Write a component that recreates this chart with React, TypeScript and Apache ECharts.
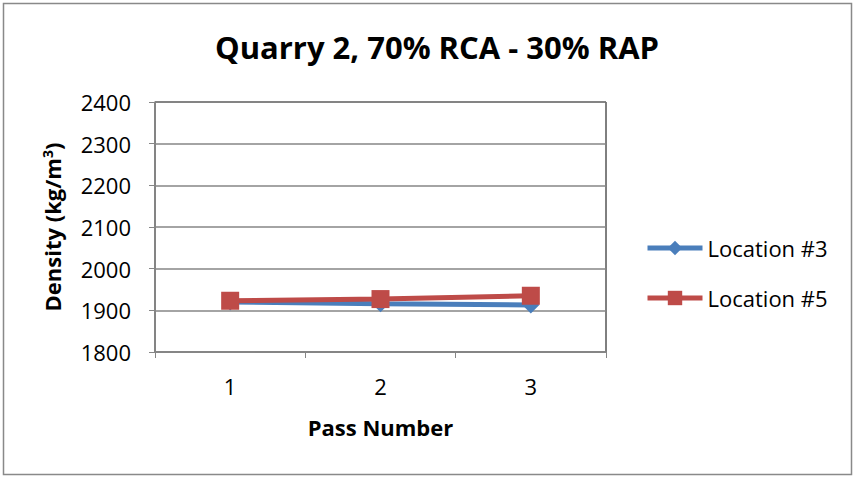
import React, { useEffect, useRef } from "react";
import * as echarts from "echarts";

const categories = ["1", "2", "3"];
const location3 = [1920, 1916, 1913];
const location5 = [1923, 1927, 1935];
const yMin = 1800;
const yMax = 2400;
const yInterval = 100;

export default function App() {
  const ref = useRef<HTMLDivElement>(null);
  useEffect(() => {
    document.body.style.margin = "0";
    const chart = echarts.init(ref.current!, null, { renderer: "svg" });
    const font = "'Open Sans', Calibri, sans-serif";
    chart.setOption({
      animation: false,
      backgroundColor: "#fff",
      title: {
        text: "Quarry 2, 70% RCA - 30% RAP",
        left: 432,
        textAlign: "center",
        top: 26,
        textStyle: { fontFamily: font, fontWeight: "bold", fontSize: 31, color: "#000" },
      },
      graphic: [
        {
          type: "rect",
          shape: { x: 3.5, y: 3.5, width: 848, height: 471 },
          style: { fill: "none", stroke: "#898989", lineWidth: 1.5 },
          silent: true,
        },
      ],
      grid: {
        left: 155,
        right: 249,
        top: 102,
        bottom: 125,
        show: true,
        borderColor: "#000",
        borderWidth: 1,
        containLabel: false,
      },
      legend: {
        orient: "vertical",
        left: 645,
        top: 237,
        padding: 0,
        itemWidth: 55,
        itemHeight: 18,
        itemGap: 28,
        lineStyle: { width: 5 },
        textStyle: { fontFamily: font, fontSize: 22, color: "#000", lineHeight: 22 },
        data: ["Location #3", "Location #5"],
      },
      xAxis: {
        type: "category",
        data: categories,
        boundaryGap: true,
        name: "Pass Number",
        nameLocation: "middle",
        nameGap: 64,
        nameTextStyle: { fontFamily: font, fontWeight: "bold", fontSize: 22, color: "#000" },
        axisLine: { lineStyle: { color: "#868686", width: 1.5 } },
        axisTick: { show: true, alignWithLabel: false, length: 6, lineStyle: { color: "#868686" } },
        axisLabel: { fontFamily: font, fontSize: 22, color: "#000", margin: 23 },
        splitLine: { show: false },
      },
      yAxis: {
        type: "value",
        min: yMin,
        max: yMax,
        interval: yInterval,
        name: "{a|Density (kg/m}{s|3}{a|)}",
        nameLocation: "middle",
        nameRotate: 90,
        nameGap: 92,
        nameTextStyle: {
          rich: {
            a: { fontFamily: font, fontWeight: "bold", fontSize: 22, color: "#000" },
            s: { fontFamily: font, fontWeight: "bold", fontSize: 14, color: "#000", verticalAlign: "top", padding: [0, 0, 9, 0] },
          },
        },
        axisLine: { show: true, lineStyle: { color: "#868686", width: 1.5 } },
        axisTick: { show: true, length: 6, lineStyle: { color: "#868686" } },
        axisLabel: {
          fontFamily: font,
          fontSize: 22,
          color: "#000",
          margin: 24,
          formatter: (v: number) => String(v),
        },
        splitLine: { show: true, lineStyle: { color: "#868686", width: 1.5 } },
      },
      series: [
        {
          name: "Location #3",
          type: "line",
          data: location3,
          symbol: "diamond",
          symbolSize: 17,
          itemStyle: { color: "#4A7EBB" },
          lineStyle: { color: "#4A7EBB", width: 5 },
        },
        {
          name: "Location #5",
          type: "line",
          data: location5,
          symbol: "rect",
          symbolSize: 18,
          itemStyle: { color: "#BE4B48" },
          lineStyle: { color: "#BE4B48", width: 5 },
        },
      ],
    });
    return () => chart.dispose();
  }, []);
  return <div ref={ref} style={{ width: 855, height: 477 }} />;
}
